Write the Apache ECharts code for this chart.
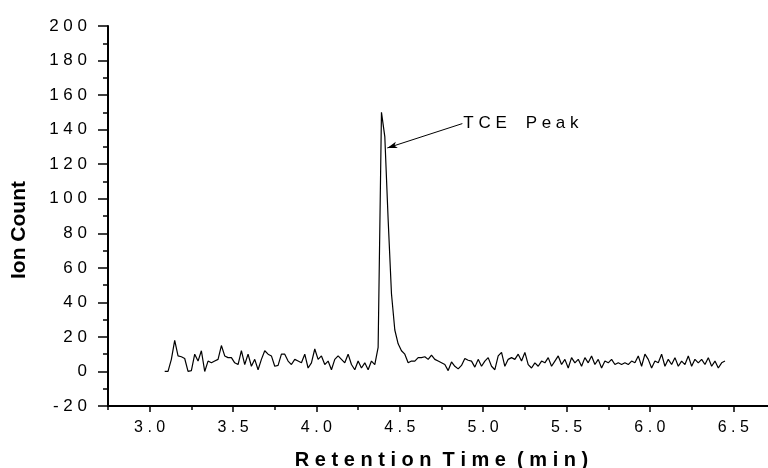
<!DOCTYPE html>
<html>
<head>
<meta charset="utf-8">
<script src="https://cdn.jsdelivr.net/npm/echarts@6/dist/echarts.min.js"></script>
<style>
  html, body { margin: 0; padding: 0; background: #fff; }
  #chart { width: 768px; height: 468px; }
</style>
</head>
<body>
<div id="chart"></div>
<script>
// Total ion chromatogram: retention time (min) vs ion count
const retentionTime = [
  3.09, 3.11, 3.13, 3.15, 3.17, 3.19, 3.21, 3.23, 3.25, 3.27,
  3.29, 3.31, 3.33, 3.35, 3.37, 3.39, 3.41, 3.43, 3.45, 3.47,
  3.49, 3.51, 3.53, 3.55, 3.57, 3.59, 3.61, 3.63, 3.65, 3.67,
  3.69, 3.71, 3.73, 3.75, 3.77, 3.79, 3.81, 3.83, 3.85, 3.87,
  3.89, 3.91, 3.93, 3.95, 3.97, 3.99, 4.01, 4.03, 4.05, 4.07,
  4.09, 4.11, 4.13, 4.15, 4.17, 4.19, 4.21, 4.23, 4.25, 4.27,
  4.29, 4.31, 4.33, 4.35, 4.37, 4.39, 4.41, 4.43, 4.45, 4.47,
  4.49, 4.51, 4.53, 4.55, 4.57, 4.59, 4.61, 4.63, 4.65, 4.67,
  4.69, 4.71, 4.73, 4.75, 4.77, 4.79, 4.81, 4.83, 4.85, 4.87,
  4.89, 4.91, 4.93, 4.95, 4.97, 4.99, 5.01, 5.03, 5.05, 5.07,
  5.09, 5.11, 5.13, 5.15, 5.17, 5.19, 5.21, 5.23, 5.25, 5.27,
  5.29, 5.31, 5.33, 5.35, 5.37, 5.39, 5.41, 5.43, 5.45, 5.47,
  5.49, 5.51, 5.53, 5.55, 5.57, 5.59, 5.61, 5.63, 5.65, 5.67,
  5.69, 5.71, 5.73, 5.75, 5.77, 5.79, 5.81, 5.83, 5.85, 5.87,
  5.89, 5.91, 5.93, 5.95, 5.97, 5.99, 6.01, 6.03, 6.05, 6.07,
  6.09, 6.11, 6.13, 6.15, 6.17, 6.19, 6.21, 6.23, 6.25, 6.27,
  6.29, 6.31, 6.33, 6.35, 6.37, 6.39, 6.41, 6.43, 6.45
];

const ionCount = [
  0, 0, 7, 18, 9, 8.5, 7.5, 0, 0.5, 10,
  6, 12, 0, 6, 5, 6, 7, 15, 9, 8,
  8, 5, 4, 12, 4, 10, 3, 7, 1, 7,
  12, 10, 9, 3, 3.5, 10, 10, 6, 4, 7,
  6, 5, 10, 2, 5, 13, 7, 9, 4, 6,
  1, 7, 9, 7, 5, 10, 4, 1, 6, 2,
  5, 1, 6, 4, 14, 150, 136, 88, 45, 24,
  16, 12, 10, 5, 6, 6, 8, 8, 8.5, 7,
  9.5, 7, 6, 5, 4, 0.5, 5.5, 3, 1.5, 3.5,
  7.5, 6.5, 6, 2.5, 7, 3, 6, 8, 3, 1,
  9, 11, 3, 7, 8, 7, 10, 6, 11, 4,
  2, 5, 3, 6, 5, 8, 3, 6, 9, 4,
  7, 2, 8, 5, 7, 3, 8, 5, 9, 4,
  7, 2, 6, 5, 7, 4, 5, 4, 5, 4,
  6, 5, 9, 3, 10, 7, 2, 6, 5, 10,
  3, 7, 4, 8, 3, 6, 4, 9, 3, 7,
  5, 7, 4, 8, 3, 6, 2, 5, 6
];

const xTickValues = [3.0, 3.5, 4.0, 4.5, 5.0, 5.5, 6.0, 6.5];
const xTitle = 'Retention Time (min)';
const yTitle = 'Ion Count';

// Peak annotation: arrow from the label out to the peak flank
const peakName = 'TCE Peak';
const peakArrowFrom = [4.875, 143.5];
const peakArrowTo = [4.425, 129.4];

const FONT = '"Liberation Sans", Arial, Helvetica, sans-serif';
const spaced = s => String(s).split('').join(' ');
const spacedWords = (s, gap) => s.split(' ').map(spaced).join(gap);

const seriesData = retentionTime.map((t, i) => [t, ionCount[i]]);

const chart = echarts.init(document.getElementById('chart'), null, { renderer: 'canvas' });

chart.setOption({
  animation: false,
  backgroundColor: '#ffffff',
  grid: {
    left: 108, top: 26, right: -7, bottom: 62,
    containLabel: false,
    outerBoundsMode: 'none'
  },
  xAxis: [
    {
      type: 'value',
      min: 2.75, max: 6.75, interval: 0.25,
      position: 'bottom',
      axisLine: { show: true, onZero: false, lineStyle: { color: '#000', width: 2 } },
      axisTick: { show: true, inside: false, length: 4, lineStyle: { color: '#000', width: 1.5 } },
      axisLabel: {
        show: true,
        customValues: xTickValues,
        margin: 14,
        color: '#000',
        fontFamily: FONT,
        fontSize: 16,
        formatter: v => spaced(Number(v).toFixed(1))
      },
      splitLine: { show: false },
      name: spacedWords(xTitle, '  '),
      nameLocation: 'middle',
      nameGap: 44,
      nameTextStyle: { color: '#000', fontFamily: FONT, fontSize: 20, fontWeight: 'bold' }
    },
    {
      type: 'value',
      min: 2.75, max: 6.75, interval: 0.25,
      position: 'bottom',
      axisLine: { show: false, onZero: false },
      axisTick: { show: true, inside: false, length: 6, customValues: xTickValues, lineStyle: { color: '#000', width: 1.5 } },
      axisLabel: { show: false },
      splitLine: { show: false }
    }
  ],
  yAxis: {
    type: 'value',
    min: -20, max: 200, interval: 20,
    axisLine: { show: true, onZero: false, lineStyle: { color: '#000', width: 2 } },
    axisTick: { show: true, inside: false, length: 10, lineStyle: { color: '#000', width: 1.5 } },
    minorTick: { show: true, splitNumber: 2, length: 5, lineStyle: { color: '#000', width: 1.5 } },
    axisLabel: {
      margin: 21,
      color: '#000',
      fontFamily: FONT,
      fontSize: 17,
      formatter: v => spaced(v)
    },
    splitLine: { show: false },
    minorSplitLine: { show: false }
  },
  graphic: [
    {
      type: 'text',
      x: 19, y: 230,
      rotation: Math.PI / 2,
      style: {
        text: yTitle,
        fill: '#000',
        fontFamily: FONT,
        fontSize: 21,
        fontWeight: 'bold',
        align: 'center',
        verticalAlign: 'middle'
      }
    }
  ],
  series: [
    {
      type: 'line',
      xAxisIndex: 0,
      data: seriesData,
      showSymbol: false,
      symbol: 'none',
      smooth: false,
      lineStyle: { color: '#000', width: 1.2 },
      markLine: {
        silent: true,
        symbol: ['none', 'arrow'],
        symbolSize: [5, 10],
        lineStyle: { color: '#000', width: 1, type: 'solid' },
        label: {
          show: true,
          position: 'start',
          distance: 1,
          color: '#000',
          fontFamily: FONT,
          fontSize: 17,
          formatter: () => spacedWords(peakName, '    ')
        },
        data: [[{ coord: peakArrowFrom }, { coord: peakArrowTo }]]
      }
    }
  ]
});
</script>
</body>
</html>
